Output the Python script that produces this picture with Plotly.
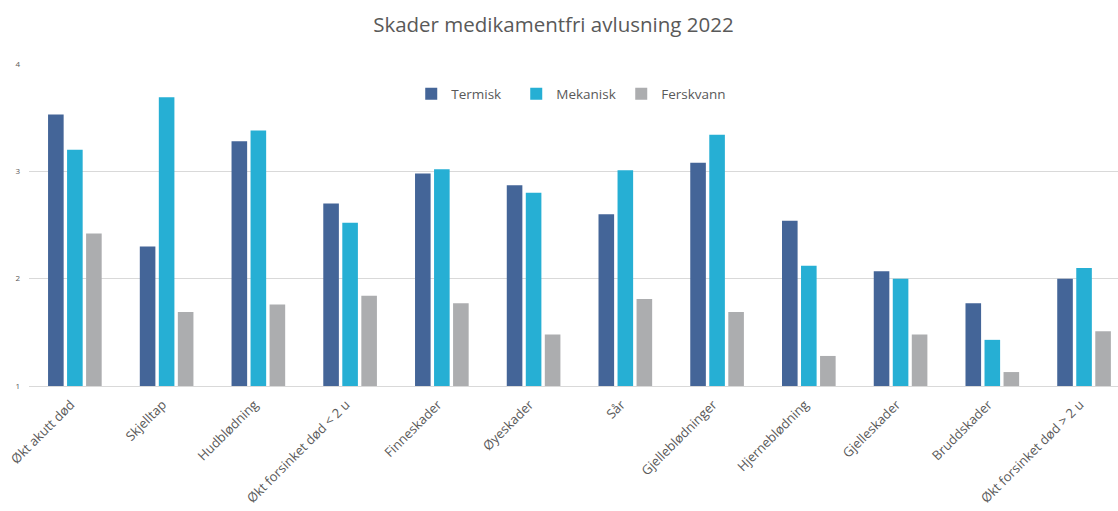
import plotly.graph_objects as go

categories = ["Økt akutt død", "Skjelltap", "Hudblødning", "Økt forsinket død < 2 u",
              "Finneskader", "Øyeskader", "Sår", "Gjelleblødninger", "Hjerneblødning",
              "Gjelleskader", "Bruddskader", "Økt forsinket død > 2 u"]
termisk = [3.53, 2.30, 3.28, 2.70, 2.98, 2.87, 2.60, 3.08, 2.54, 2.07, 1.77, 2.00]
mekanisk = [3.20, 3.69, 3.38, 2.52, 3.02, 2.80, 3.01, 3.34, 2.12, 2.00, 1.43, 2.10]
ferskvann = [2.42, 1.69, 1.76, 1.84, 1.77, 1.48, 1.81, 1.69, 1.28, 1.48, 1.13, 1.51]
y_ticks = [1, 2, 3, 4]

FONT = "Open Sans"
GRAY = "#595959"

fig = go.Figure()
for name, vals, col in [("Termisk", termisk, "#446598"),
                        ("Mekanisk", mekanisk, "#26afd4"),
                        ("Ferskvann", ferskvann, "#acadaf")]:
    fig.add_trace(go.Bar(x=categories, y=[v - 1 for v in vals], base=1, name=name,
                         marker=dict(color=col, line=dict(width=0)),
                         hovertext=[f"{v}" for v in vals]))

fig.update_layout(
    width=1118, height=511,
    margin=dict(l=29, r=0, t=64, b=125),
    paper_bgcolor="white", plot_bgcolor="white",
    barmode="group", bargap=0.378, bargroupgap=0.18,
    title=dict(text="Skader medikamentfri avlusning 2022", x=0.495, xanchor="center",
               y=0.952, yanchor="middle",
               font=dict(family=FONT, size=20.5, color=GRAY)),
    legend=dict(orientation="h", x=0.351, xanchor="left", y=0.955, yanchor="top",
                font=dict(family=FONT, size=13.5, color=GRAY),
                bgcolor="rgba(0,0,0,0)", itemwidth=30, entrywidth=60,
                entrywidthmode="pixels"),
    xaxis=dict(range=[-0.5, 11.37], tickangle=-45, showgrid=False, automargin=False,
               tickfont=dict(family=FONT, size=13, color=GRAY),
               ticklabelshift=-4, ticklabelstandoff=5,
               showline=True, linecolor="#d9d9d9", linewidth=1, ticks=""),
    yaxis=dict(range=[1, 4], tickvals=y_ticks, ticktext=[str(t) for t in y_ticks],
               showgrid=True, gridcolor="#d9d9d9", gridwidth=1, automargin=False,
               tickfont=dict(family=FONT, size=8, color=GRAY), zeroline=False,
               ticklabelstandoff=8),
)

fig.write_html("out.html", config={"displayModeBar": False},
               post_script="document.body.style.margin='0px';")
